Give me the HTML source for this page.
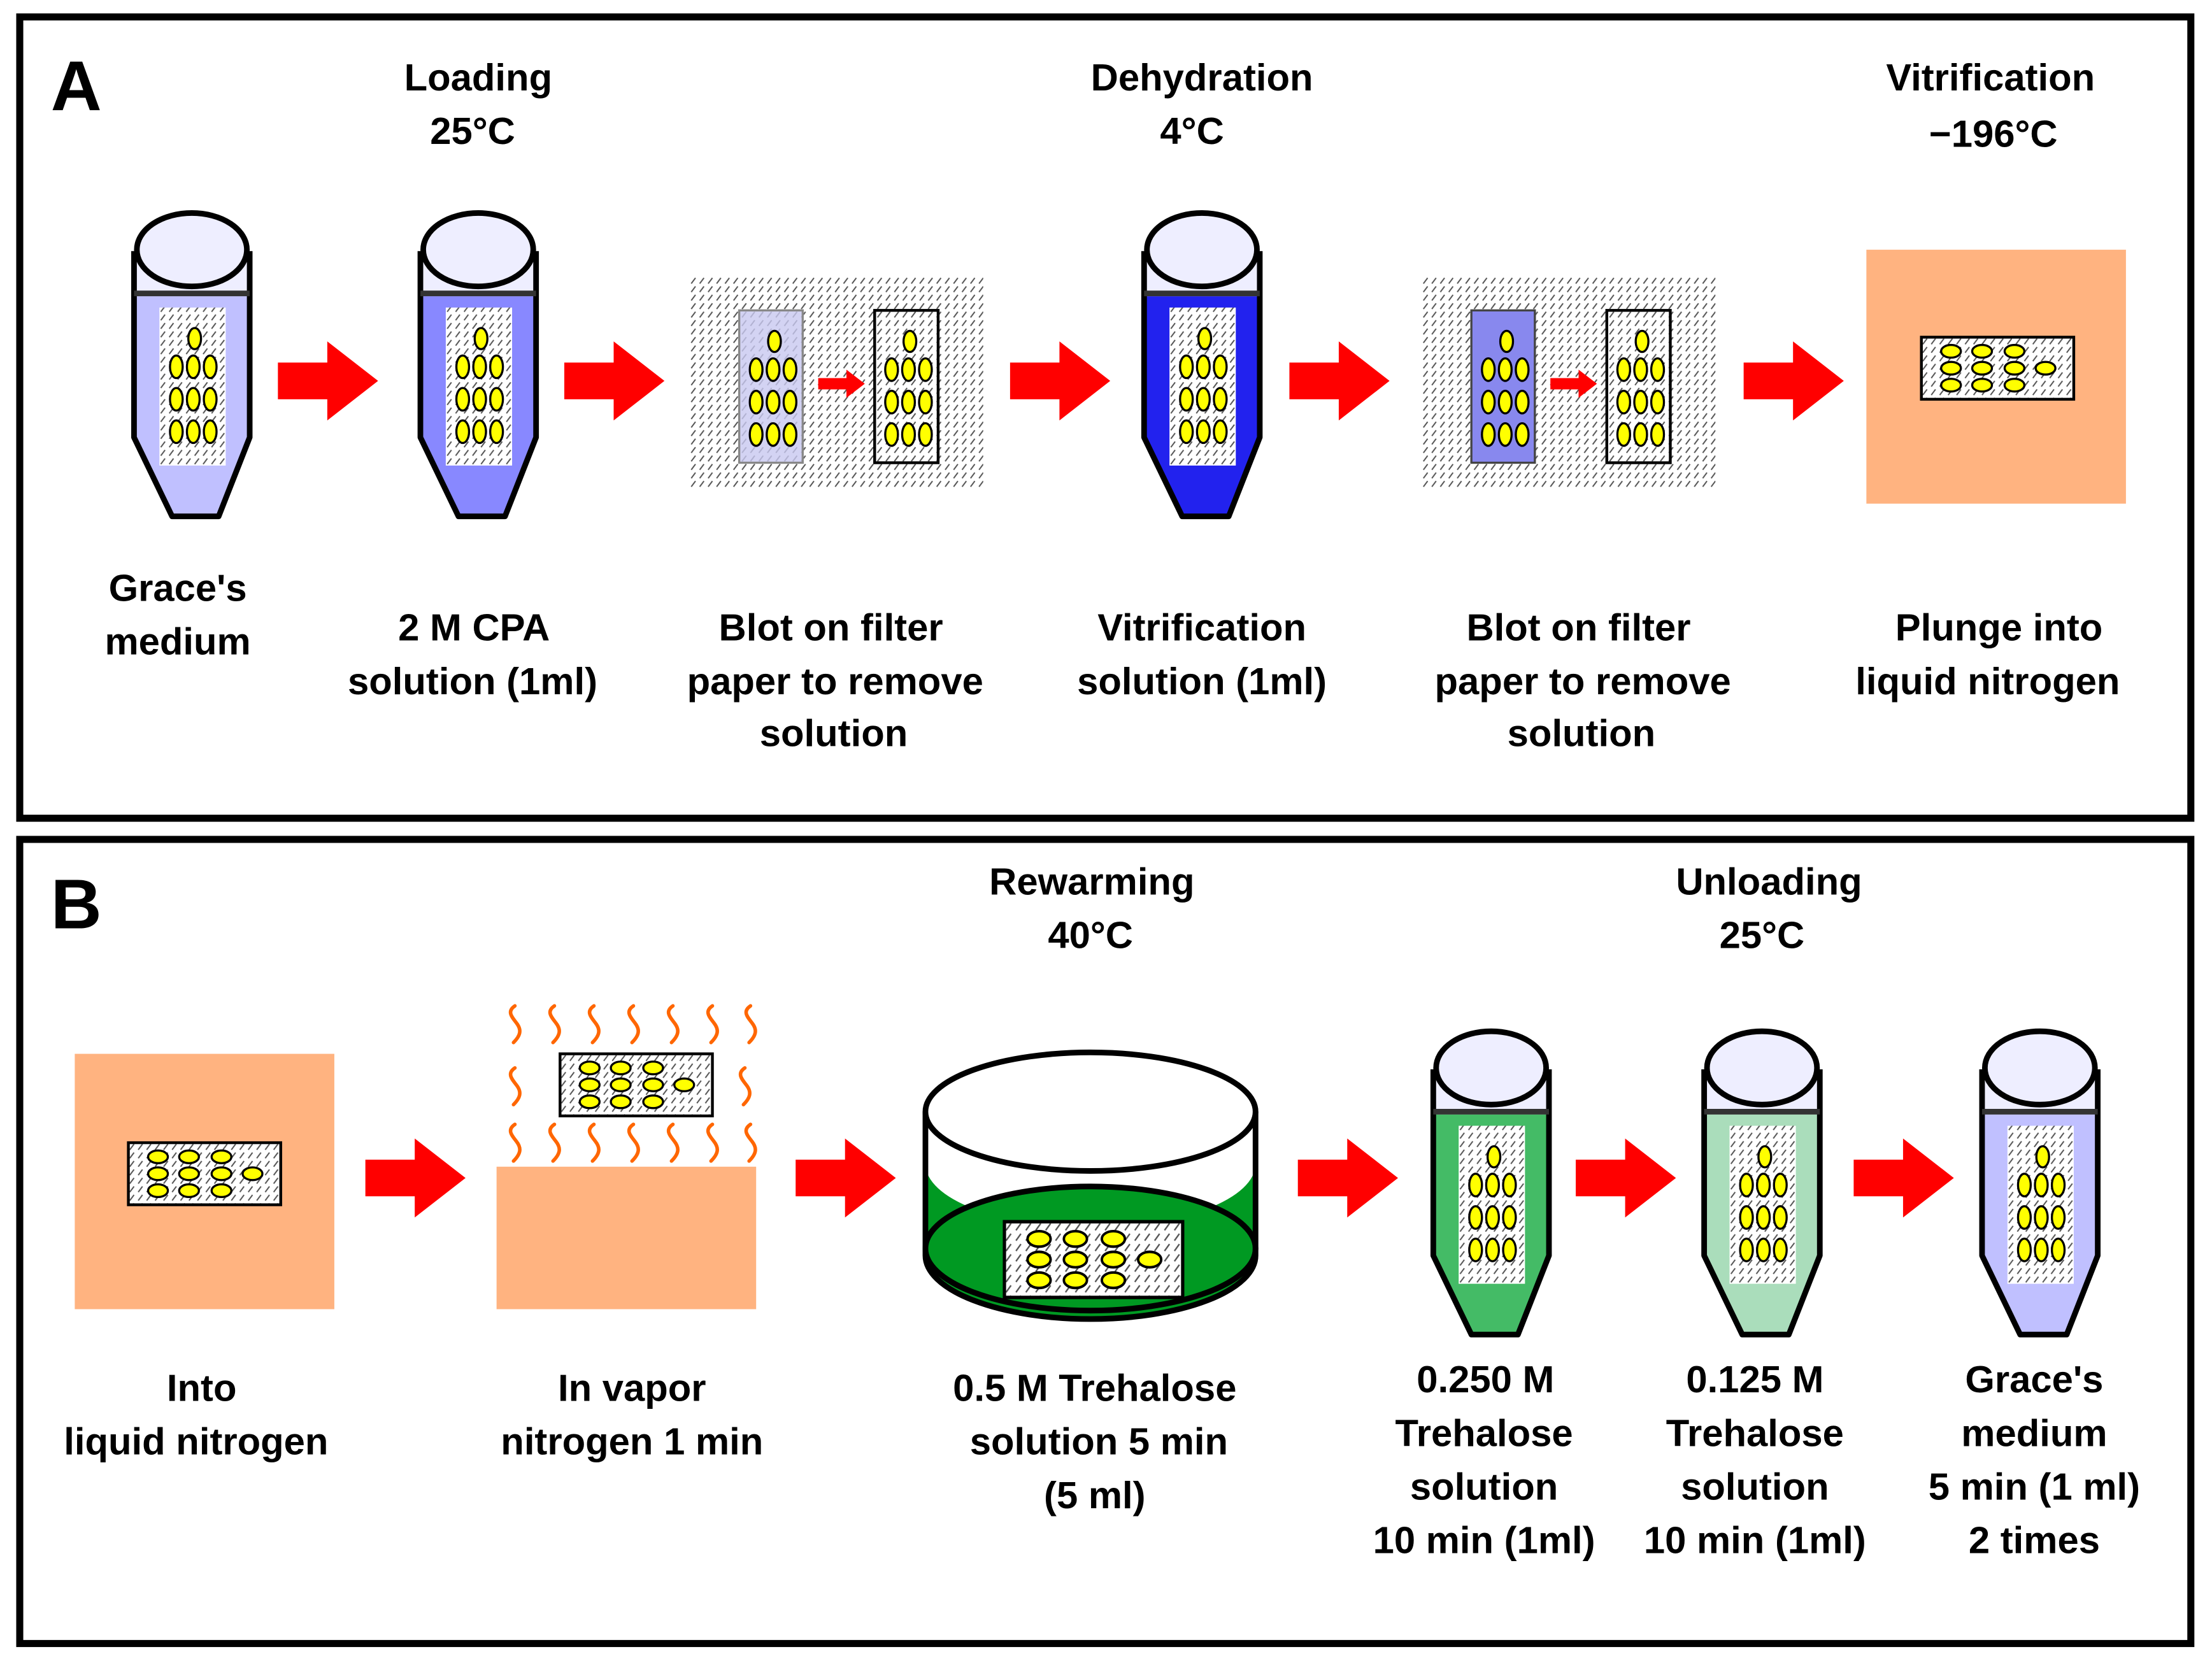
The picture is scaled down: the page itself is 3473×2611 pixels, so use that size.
<!DOCTYPE html>
<html><head><meta charset="utf-8">
<style>html,body{margin:0;padding:0;background:#fff}svg{display:block}
text{font-family:"Liberation Sans",Arial,sans-serif;font-weight:bold;fill:#000}</style></head>
<body>
<svg width="3473" height="2611" viewBox="0 0 1568 1178.8" xmlns="http://www.w3.org/2000/svg">
<defs>
<pattern id="h" width="6" height="6" patternUnits="userSpaceOnUse">
<rect width="6" height="6" fill="#fff"/>
<line x1="1" y1="5" x2="4" y2="1" stroke="#555" stroke-width="0.9"/>
</pattern>
<g id="cellsV">
<ellipse cx="43" cy="90" rx="4.5" ry="7.5"/>
<ellipse cx="30" cy="110" rx="4.5" ry="8"/><ellipse cx="42" cy="110" rx="4.5" ry="8"/><ellipse cx="54" cy="110" rx="4.5" ry="8"/>
<ellipse cx="30" cy="133" rx="4.5" ry="8"/><ellipse cx="42" cy="133" rx="4.5" ry="8"/><ellipse cx="54" cy="133" rx="4.5" ry="8"/>
<ellipse cx="30" cy="156" rx="4.5" ry="8"/><ellipse cx="42" cy="156" rx="4.5" ry="8"/><ellipse cx="54" cy="156" rx="4.5" ry="8"/>
</g>
<g id="slideH">
<rect x="0" y="0" width="108" height="44" fill="url(#h)" stroke="#000" stroke-width="2"/>
<g fill="#ff0" stroke="#000" stroke-width="1.5">
<ellipse cx="21" cy="10" rx="7" ry="4.5"/><ellipse cx="43" cy="10" rx="7" ry="4.5"/><ellipse cx="66" cy="10" rx="7" ry="4.5"/>
<ellipse cx="21" cy="22" rx="7" ry="4.5"/><ellipse cx="43" cy="22" rx="7" ry="4.5"/><ellipse cx="66" cy="22" rx="7" ry="4.5"/><ellipse cx="88" cy="22" rx="7" ry="4.5"/>
<ellipse cx="21" cy="34" rx="7" ry="4.5"/><ellipse cx="43" cy="34" rx="7" ry="4.5"/><ellipse cx="66" cy="34" rx="7" ry="4.5"/>
</g></g>
<path id="arrow" d="M0,-13 L35,-13 L35,-28 L71,0 L35,28 L35,13 L0,13 Z" fill="#f00"/>
<path id="wave" d="M0,0 C-6,4 -2,8 1,12 C5,17 4,21 -1,26" fill="none" stroke="#f60" stroke-width="2.5" stroke-linecap="round"/>
<g id="tubeBase">
<path d="M0,28 L82,28 L82,58 L0,58 Z" fill="#eeeeff"/>
<path d="M0,28 L0,160 L27,216 L60,216 L82,160 L82,28" fill="none" stroke="#000" stroke-width="4" stroke-linejoin="round"/>
<line x1="0" y1="58" x2="82" y2="58" stroke="#333" stroke-width="4"/>
<ellipse cx="41" cy="27" rx="39" ry="26" fill="#eeeeff" stroke="#000" stroke-width="4"/>
<rect x="18" y="68" width="47" height="112" fill="url(#h)"/>
<use href="#cellsV" fill="#ff0" stroke="#000" stroke-width="1.5"/>
</g>
</defs>
<rect width="1568" height="1179" fill="#fff"/>
<rect x="14" y="12" width="1539" height="568" fill="none" stroke="#000" stroke-width="5"/>
<rect x="14" y="595" width="1539" height="570" fill="none" stroke="#000" stroke-width="5"/>
<text x="36" y="78" font-size="50">A</text>
<text x="36" y="658" font-size="50">B</text>

<g transform="translate(95,150)"><path d="M0,60 L0,160 L27,216 L60,216 L82,160 L82,60 Z" fill="#c0c0ff"/><use href="#tubeBase"/></g>
<g transform="translate(298,150)"><path d="M0,60 L0,160 L27,216 L60,216 L82,160 L82,60 Z" fill="#8888ff"/><use href="#tubeBase"/></g>
<g transform="translate(811,150)"><path d="M0,60 L0,160 L27,216 L60,216 L82,160 L82,60 Z" fill="#2222ee"/><use href="#tubeBase"/></g>
<g transform="translate(1016,730)"><path d="M0,60 L0,160 L27,216 L60,216 L82,160 L82,60 Z" fill="#44bb66"/><use href="#tubeBase"/></g>
<g transform="translate(1208,730)"><path d="M0,60 L0,160 L27,216 L60,216 L82,160 L82,60 Z" fill="#aaddbb"/><use href="#tubeBase"/></g>
<g transform="translate(1405,730)"><path d="M0,60 L0,160 L27,216 L60,216 L82,160 L82,60 Z" fill="#c0c0ff"/><use href="#tubeBase"/></g>

<use href="#arrow" transform="translate(197,270)"/>
<use href="#arrow" transform="translate(400,270)"/>
<use href="#arrow" transform="translate(716,270)"/>
<use href="#arrow" transform="translate(914,270)"/>
<use href="#arrow" transform="translate(1236,270)"/>
<use href="#arrow" transform="translate(259,835)"/>
<use href="#arrow" transform="translate(564,835)"/>
<use href="#arrow" transform="translate(920,835)"/>
<use href="#arrow" transform="translate(1117,835)"/>
<use href="#arrow" transform="translate(1314,835)"/>

<g transform="translate(489,196)">
<rect width="208" height="150" fill="url(#h)"/>
<rect x="35" y="24" width="45" height="108" fill="#c8c8f0" fill-opacity="0.8" stroke="#888" stroke-width="1.5"/>
<use href="#cellsV" fill="#ff0" stroke="#000" stroke-width="1.5" transform="translate(17,-44)"/>
<path d="M91,72 L111,72 L111,66 L124,76 L111,86 L111,80 L91,80 Z" fill="#f00"/>
<rect x="131" y="24" width="45" height="108" fill="url(#h)" stroke="#000" stroke-width="2"/>
<use href="#cellsV" fill="#ff0" stroke="#000" stroke-width="1.5" transform="translate(113,-44)"/>
</g>
<g transform="translate(1008,196)">
<rect width="208" height="150" fill="url(#h)"/>
<rect x="35" y="24" width="45" height="108" fill="#8888ee" stroke="#444" stroke-width="1.5"/>
<use href="#cellsV" fill="#ff0" stroke="#000" stroke-width="1.5" transform="translate(17,-44)"/>
<path d="M91,72 L111,72 L111,66 L124,76 L111,86 L111,80 L91,80 Z" fill="#f00"/>
<rect x="131" y="24" width="45" height="108" fill="url(#h)" stroke="#000" stroke-width="2"/>
<use href="#cellsV" fill="#ff0" stroke="#000" stroke-width="1.5" transform="translate(113,-44)"/>
</g>

<rect x="1323" y="177" width="184" height="180" fill="#ffb380"/>
<use href="#slideH" transform="translate(1362,239)"/>
<rect x="53" y="747" width="184" height="181" fill="#ffb380"/>
<use href="#slideH" transform="translate(91,810)"/>

<rect x="352" y="827" width="184" height="101" fill="#ffb380"/>
<use href="#slideH" transform="translate(397,747)"/>
<g>
<use href="#wave" transform="translate(365,713)"/><use href="#wave" transform="translate(393,713)"/><use href="#wave" transform="translate(421,713)"/><use href="#wave" transform="translate(449,713)"/><use href="#wave" transform="translate(477,713)"/><use href="#wave" transform="translate(505,713)"/><use href="#wave" transform="translate(532,713)"/>
<use href="#wave" transform="translate(365,757)"/><use href="#wave" transform="translate(528,757)"/>
<use href="#wave" transform="translate(365,797)"/><use href="#wave" transform="translate(393,797)"/><use href="#wave" transform="translate(421,797)"/><use href="#wave" transform="translate(449,797)"/><use href="#wave" transform="translate(477,797)"/><use href="#wave" transform="translate(505,797)"/><use href="#wave" transform="translate(532,797)"/>
</g>

<path d="M656,788 L656,890 A117,45 0 0 0 890,890 L890,788 Z" fill="#fff"/>
<path d="M656,825 A117,45 0 0 0 890,825 L890,890 A117,45 0 0 1 656,890 Z" fill="#009922"/>
<ellipse cx="773" cy="885" rx="117" ry="44" fill="#009922" stroke="#000" stroke-width="4"/>
<path d="M656,788 L656,890 A117,45 0 0 0 890,890 L890,788" fill="none" stroke="#000" stroke-width="4"/>
<ellipse cx="773" cy="788" rx="117" ry="42" fill="#fff" stroke="#000" stroke-width="4"/>
<g transform="translate(712,866) scale(1.17,1.22)"><use href="#slideH"/></g>

<g font-size="27" text-anchor="middle">
<text x="339" y="64">Loading</text><text x="335" y="102">25°C</text>
<text x="852" y="64">Dehydration</text><text x="845" y="102">4°C</text>
<text x="1411" y="64">Vitrification</text><text x="1413" y="104">−196°C</text>
<text x="126" y="426">Grace's</text><text x="126" y="464">medium</text>
<text x="336" y="454">2 M CPA</text><text x="335" y="492">solution (1ml)</text>
<text x="589" y="454">Blot on filter</text><text x="592" y="492">paper to remove</text><text x="591" y="529">solution</text>
<text x="852" y="454">Vitrification</text><text x="852" y="492">solution (1ml)</text>
<text x="1119" y="454">Blot on filter</text><text x="1122" y="492">paper to remove</text><text x="1121" y="529">solution</text>
<text x="1417" y="454">Plunge into</text><text x="1409" y="492">liquid nitrogen</text>
<text x="774" y="634">Rewarming</text><text x="773" y="672">40°C</text>
<text x="1254" y="634">Unloading</text><text x="1249" y="672">25°C</text>
<text x="143" y="993">Into</text><text x="139" y="1031">liquid nitrogen</text>
<text x="448" y="993">In vapor</text><text x="448" y="1031">nitrogen 1 min</text>
<text x="776" y="993">0.5 M Trehalose</text><text x="779" y="1031">solution 5 min</text><text x="776" y="1069">(5 ml)</text>
<text x="1053" y="987">0.250 M</text><text x="1052" y="1025">Trehalose</text><text x="1052" y="1063">solution</text><text x="1052" y="1101">10 min (1ml)</text>
<text x="1244" y="987">0.125 M</text><text x="1244" y="1025">Trehalose</text><text x="1244" y="1063">solution</text><text x="1244" y="1101">10 min (1ml)</text>
<text x="1442" y="987">Grace's</text><text x="1442" y="1025">medium</text><text x="1442" y="1063">5 min (1 ml)</text><text x="1442" y="1101">2 times</text>
</g>
</svg>
</body></html>
